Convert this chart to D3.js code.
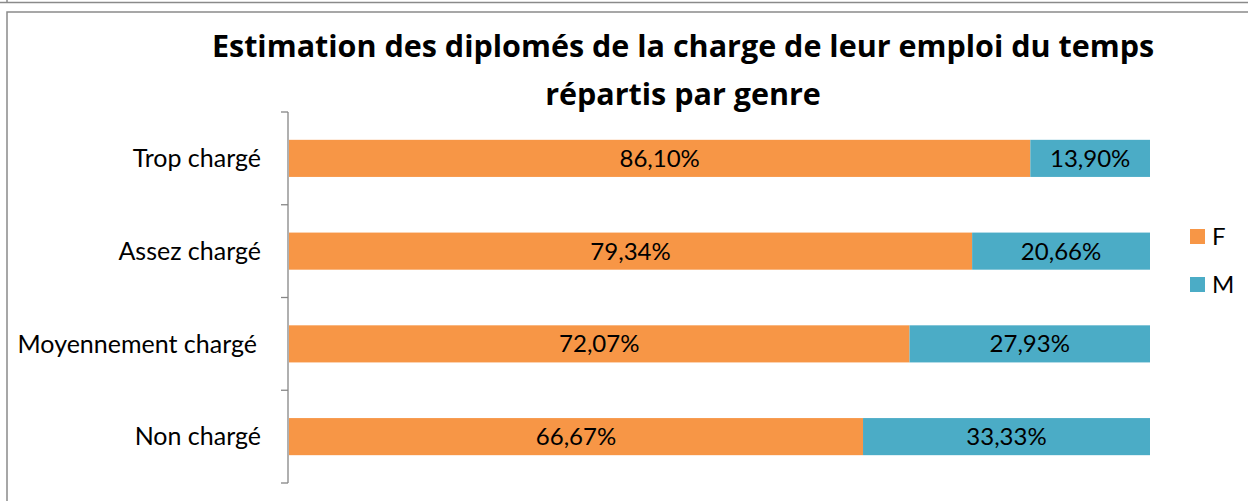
<!DOCTYPE html>
<html lang="fr">
<head>
<meta charset="UTF-8">
<title>Estimation des diplomés</title>
<style>
    html, body { margin: 0; padding: 0; background: #fff; }
    svg { display: block; font-family: Lato, "Open Sans", sans-serif; }
</style>
<script src="https://cdn.jsdelivr.net/npm/d3@7"></script>
</head>
<body>
<svg></svg>
<script>
// data
const categories = ["Trop chargé", "Assez chargé", "Moyennement chargé", "Non chargé"];
const seriesNames = ["F", "M"];
const valuesF = [86.10, 79.34, 72.07, 66.67];
const valuesM = [13.90, 20.66, 27.93, 33.33];
const titleLines = ["Estimation des diplomés de la charge de leur emploi du temps", "répartis par genre"];

const W = 1248, H = 501;
const colors = {F: "#F79646", M: "#4BACC6"};
const axisGrey = "#868686";

const svg = d3.select("svg").attr("width", W).attr("height", H);

// frame of the screenshot
svg.append("line").attr("x1", 0).attr("x2", W).attr("y1", 2.5).attr("y2", 2.5)
    .attr("stroke", "#8a8a8a").attr("stroke-width", 1.5);
svg.append("line").attr("x1", 7).attr("x2", 7).attr("y1", 0).attr("y2", 3)
    .attr("stroke", "#8a8a8a").attr("stroke-width", 1.5);
svg.append("rect").attr("x", 7).attr("y", 12).attr("width", W + 10).attr("height", H + 10)
    .attr("fill", "#fff").attr("stroke", "#8a8a8a").attr("stroke-width", 1.5);

// title
svg.append("text")
    .attr("x", 683).attr("y", 57)
    .attr("text-anchor", "middle")
    .style("font-family", "'Open Sans', sans-serif")
    .style("font-size", "30.5px").style("font-weight", "bold")
    .selectAll("tspan").data(titleLines).enter().append("tspan")
    .attr("x", 683).attr("dy", (d, i) => i ? 48 : 0)
    .text(d => d);

const stacked = categories.map((c, i) => ({cat: c, F: valuesF[i], M: valuesM[i]}));
const series = d3.stack().keys(seriesNames)(stacked);

const x = d3.scaleLinear().domain([0, 100]).range([289, 1150]);
const y = d3.scaleBand().domain(categories).range([112, 483]).paddingInner(0.6).paddingOuter(0.3);
const yTicks = d3.scaleBand().domain(categories).range([112, 483]);

// category axis
const axisG = svg.append("g").attr("transform", "translate(288,0)");
axisG.append("line").attr("x1", 0).attr("x2", 0).attr("y1", 112).attr("y2", 483)
    .attr("stroke", axisGrey).attr("stroke-width", 1.3);
const tickPos = categories.map(c => yTicks(c)).concat([483]);
axisG.selectAll(".tick").data(tickPos).enter().append("line")
    .attr("x1", -7).attr("x2", 0).attr("y1", d => d).attr("y2", d => d)
    .attr("stroke", axisGrey).attr("stroke-width", 1.3);
axisG.selectAll(".lbl").data(categories).enter().append("text")
    .attr("x", (d, i) => i === 2 ? -31 : -27)
    .attr("y", d => yTicks(d) + yTicks.bandwidth() / 2)
    .attr("dy", "0.35em").attr("text-anchor", "end")
    .style("font-size", "25px").attr("fill", "#000")
    .text(d => d);

// bars
const layer = svg.selectAll(".layer").data(series).enter().append("g")
    .attr("fill", d => colors[d.key]);
layer.selectAll("rect").data(d => d).enter().append("rect")
    .attr("x", d => x(d[0])).attr("width", d => x(d[1]) - x(d[0]))
    .attr("y", d => y(d.data.cat)).attr("height", y.bandwidth());

const fmt = v => v.toFixed(2).replace(".", ",") + "%";
layer.selectAll("text").data(d => d.map(p => ({p: p, key: d.key}))).enter().append("text")
    .attr("x", d => (x(d.p[0]) + x(d.p[1])) / 2)
    .attr("y", d => y(d.p.data.cat) + y.bandwidth() / 2)
    .attr("dy", "0.35em").attr("text-anchor", "middle")
    .attr("fill", "#000").style("font-size", "24px")
    .text(d => fmt(d.p.data[d.key]));

// legend
const leg = svg.selectAll(".leg").data(seriesNames).enter().append("g")
    .attr("transform", (d, i) => `translate(1190,${229 + i * 48})`);
leg.append("rect").attr("width", 15).attr("height", 15).attr("fill", d => colors[d]);
leg.append("text").attr("x", 22).attr("y", 7.5).attr("dy", "0.35em")
    .style("font-size", "24px").text(d => d);
</script>
</body>
</html>
